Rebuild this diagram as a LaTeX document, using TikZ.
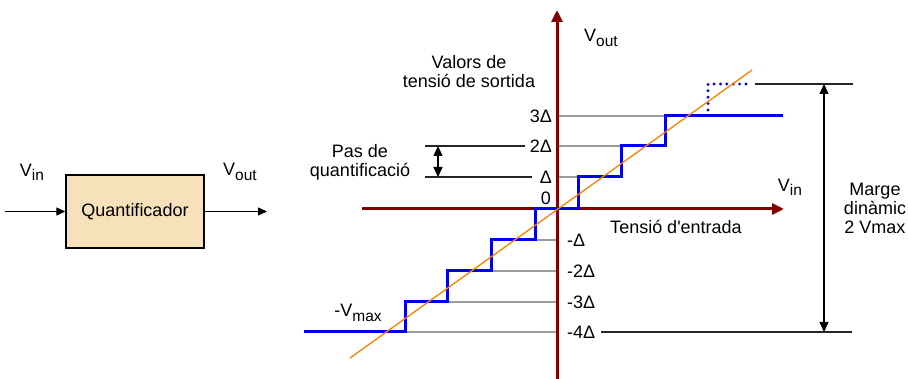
\documentclass[tikz,border=0pt]{standalone}
\usepackage{fontspec}
\setmainfont{Liberation Sans}
\usetikzlibrary{arrows.meta}
\definecolor{axisred}{RGB}{128,0,0}
\definecolor{boxfill}{RGB}{247,225,187}
\definecolor{stepblue}{RGB}{0,0,240}
\definecolor{orangeline}{RGB}{255,128,0}
\definecolor{levelgray}{RGB}{155,155,155}
\newcommand\lowsub[1]{\raisebox{-0.45ex}{\fontsize{15.5}{15.5}\selectfont #1}}
\begin{document}
\begin{tikzpicture}[x=1pt,y=-1pt,
  every node/.style={font=\fontsize{18}{19}\selectfont, inner sep=0pt},
  sig/.style={line width=1.3pt, -{Triangle[length=9pt,width=8pt]}},
  axisline/.style={axisred, line width=3pt, -{Triangle[length=12pt,width=11pt]}},
  levelline/.style={levelgray, line width=2.2pt},
  stair/.style={stepblue, line width=3pt},
  refline/.style={black!85, line width=1.4pt},
  dimarrow/.style={black, line width=1.4pt, {Triangle[length=10pt,width=9pt]}-{Triangle[length=10pt,width=9pt]}},
  ramp/.style={orangeline, line width=1.3pt},
  multi/.style={align=center}]
\useasboundingbox (0,0) rectangle (908,379);

% block diagram
\node[draw, line width=1.4pt, fill=boxfill, minimum width=138pt, minimum height=73pt] (q) at (135,211.5) {Quantificador};
\coordinate (inL) at (5,211.5);
\coordinate (outR) at (267,211.5);
\draw[sig] (inL) -- (q.west);
\draw[sig] (q.east) -- (outR);
\node (vinL) at (32,172) {V\lowsub{in}};
\node (voutL) at (240,172) {V\lowsub{out}};

% quantisation levels (gray)
\draw[levelline] (557,116) -- (665,116);
\draw[levelline] (557,146) -- (621,146);
\draw[levelline] (557,177) -- (578,177);
\draw[levelline] (535,240) -- (557,240);
\draw[levelline] (491,271) -- (557,271);
\draw[levelline] (447,302) -- (557,302);
\draw[levelline] (405,332) -- (557,332);

% axes
\coordinate (ybot) at (557,379);
\coordinate (ytop) at (557,10);
\coordinate (xleft) at (362,209);
\coordinate (xright) at (784,209);
\draw[axisline] (ybot) -- (ytop);
\draw[axisline] (xleft) -- (xright);

% staircase
\draw[stair] (304,332) -- (405,332) -- (405,302) -- (447,302) -- (447,271) -- (491,271) -- (491,240) -- (535,240) -- (535,209) -- (578,209) -- (578,177) -- (621,177) -- (621,146) -- (665,146) -- (665,116) -- (783,116);
\draw[stepblue, line width=3.2pt, line cap=round, dash pattern=on 0pt off 6.4pt] (708,110) -- (708,84) -- (747,84);

% ideal ramp
\draw[ramp] (350,358) -- (752,70);

% level labels
\node[anchor=east] (l3) at (552,116) {3Δ};
\node[anchor=east] (l2) at (552,146) {2Δ};
\node[anchor=east] (l1) at (552,177) {Δ};
\node[anchor=east] (l0) at (551,198) {0};
\node[anchor=west] (m1) at (567,240) {-Δ};
\node[anchor=west] (m2) at (567,271) {-2Δ};
\node[anchor=west] (m3) at (567,302) {-3Δ};
\node[anchor=west] (m4) at (567,332) {-4Δ};

% dynamic range
\coordinate (rtopL) at (755,84);
\coordinate (rtopR) at (853,84);
\coordinate (rbotL) at (601,332);
\coordinate (rbotR) at (852,332);
\draw[refline] (rtopL) -- (rtopR);
\draw[refline] (rbotL) -- (rbotR);
\coordinate (dTop) at (824,84);
\coordinate (dBot) at (824,332);
\draw[dimarrow] (dTop) -- (dBot);
\node[multi] (marge) at (875,208) {Marge\\dinàmic\\2 Vmax};

% step size
\coordinate (pA) at (425,146);
\coordinate (pB) at (525,146);
\coordinate (pC) at (425,177);
\coordinate (pD) at (532,177);
\draw[refline] (pA) -- (pB);
\draw[refline] (pC) -- (pD);
\coordinate (sTop) at (438,146);
\coordinate (sBot) at (438,177);
\draw[dimarrow] (sTop) -- (sBot);
\node[multi] (pas) at (360,162) {Pas de\\quantificació};

% axis labels
\node[multi] (valors) at (469,72) {Valors de\\tensió de sortida};
\node (voutA) at (601,38) {V\lowsub{out}};
\node (vinA) at (790,187) {V\lowsub{in}};
\node (tens) at (676,227) {Tensió d\textquotesingle entrada};
\node (vmax) at (358,313) {-V\lowsub{max}};
\end{tikzpicture}
\end{document}
